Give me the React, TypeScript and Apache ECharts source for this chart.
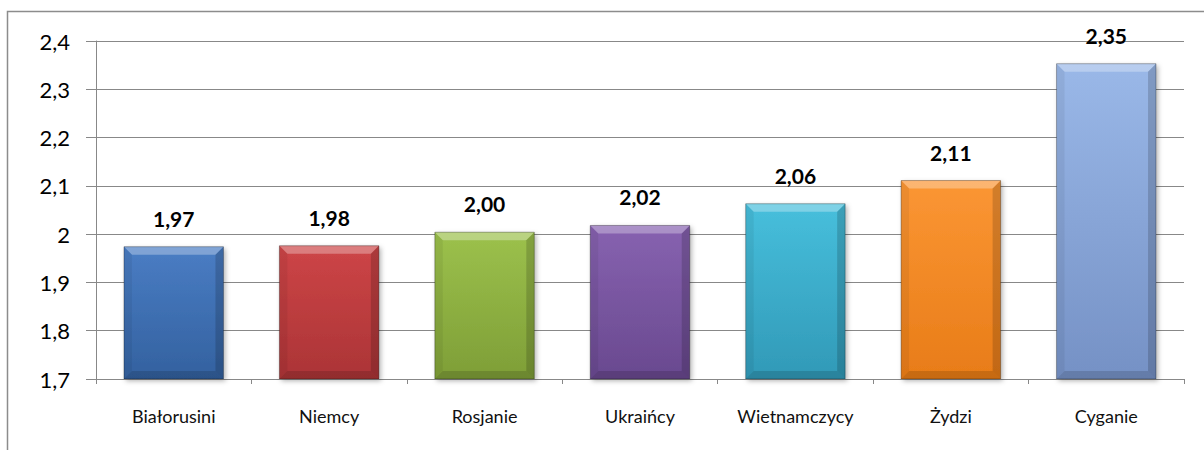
import React, { useEffect, useRef } from "react";
import * as echarts from "echarts";

const categories = ["Białorusini", "Niemcy", "Rosjanie", "Ukraińcy", "Wietnamczycy", "Żydzi", "Cyganie"];
const values = [1.974, 1.976, 2.004, 2.018, 2.063, 2.111, 2.353];
const yMin = 1.7;
const yMax = 2.4;
const yStep = 0.1;

const topColors = ["#4a7dc4", "#cd4547", "#9cc14c", "#8762b0", "#47bfdc", "#fb9634", "#9ab8e8"];
const bottomColors = ["#33619f", "#ab3436", "#7e9e37", "#69498f", "#3199b7", "#e87c18", "#7591c5"];

const fmtComma = (v: number, d: number) => v.toFixed(d).replace(".", ",");

export default function App() {
  const ref = useRef<HTMLDivElement>(null);
  useEffect(() => {
    if (!ref.current) return;
    const chart = echarts.init(ref.current, null, { renderer: "svg" });
    const barWidthRatio = 0.64;
    chart.setOption({
      animation: false,
      backgroundColor: "#ffffff",
      graphic: [
        {
          type: "rect",
          shape: { x: 7.5, y: 11.5, width: 1300, height: 500 },
          style: { fill: "none", stroke: "#8c8c8c", lineWidth: 1.5 },
          silent: true,
          z: 0,
        },
      ],
      grid: { left: 96, right: 20, top: 41, bottom: 71, containLabel: false },
      xAxis: {
        type: "category",
        data: categories,
        axisLine: { show: true, lineStyle: { color: "#888888", width: 1 } },
        axisTick: { show: true, length: 5, alignWithLabel: false, lineStyle: { color: "#888888" } },
        axisLabel: { margin: 28, fontFamily: "Lato", fontSize: 18, color: "#111111" },
        splitLine: { show: false },
      },
      yAxis: {
        type: "value",
        min: yMin,
        max: yMax,
        interval: yStep,
        startValue: yMin,
        axisLine: { show: true, lineStyle: { color: "#888888", width: 1 } },
        axisTick: { show: true, length: 10, lineStyle: { color: "#888888" } },
        axisLabel: {
          margin: 26,
          fontFamily: "Lato",
          fontSize: 22,
          color: "#000000",
          formatter: (v: number) => String(Math.round(v * 10) / 10).replace(".", ","),
        },
        splitLine: { show: true, lineStyle: { color: "#888888", width: 1 } },
      },
      series: [
        {
          type: "bar",
          barWidth: barWidthRatio * 100 + "%",
          clip: true,
          data: values.map((v, i) => ({
            value: v,
            itemStyle: {
              color: new echarts.graphic.LinearGradient(0, 0, 0, 1, [
                { offset: 0, color: topColors[i] },
                { offset: 1, color: bottomColors[i] },
              ]),
              shadowBlur: 5,
              shadowColor: "rgba(0,0,0,0.3)",
              shadowOffsetX: 2,
              shadowOffsetY: 2,
            },
          })),
          label: {
            show: true,
            position: "top",
            distance: 18,
            fontFamily: "Lato",
            fontWeight: "bold",
            fontSize: 21,
            color: "#000000",
            formatter: (p: any) => fmtComma(p.value, 2),
          },
          z: 2,
        },
        {
          type: "custom",
          clip: true,
          z: 3,
          silent: true,
          data: values.map((v, i) => [i, v]),
          renderItem: (params: any, api: any) => {
            const idx = api.value(0);
            const val = api.value(1);
            const top = api.coord([idx, val]);
            const base = api.coord([idx, yMin]);
            const w = api.size([1, 0])[0] * barWidthRatio;
            const x0 = top[0] - w / 2;
            const x1 = top[0] + w / 2;
            const y0 = top[1];
            const y1 = base[1];
            const b = 8;
            return {
              type: "group",
              children: [
                {
                  type: "polygon",
                  shape: { points: [[x0, y0], [x1, y0], [x1 - b, y0 + b], [x0 + b, y0 + b]] },
                  style: { fill: "rgba(255,255,255,0.3)" },
                },
                {
                  type: "polygon",
                  shape: { points: [[x1, y0], [x1, y1], [x1 - b, y1 - b], [x1 - b, y0 + b]] },
                  style: { fill: "rgba(0,0,0,0.16)" },
                },
                {
                  type: "polygon",
                  shape: { points: [[x0, y0], [x0 + b, y0 + b], [x0 + b, y1 - b], [x0, y1]] },
                  style: { fill: "rgba(0,0,0,0.06)" },
                },
                {
                  type: "polygon",
                  shape: { points: [[x0, y1], [x0 + b, y1 - b], [x1 - b, y1 - b], [x1, y1]] },
                  style: { fill: "rgba(0,0,0,0.14)" },
                },
                {
                  type: "rect",
                  shape: { x: x0, y: y0, width: w, height: y1 - y0 },
                  style: { fill: "none", stroke: "rgba(0,0,0,0.3)", lineWidth: 1 },
                },
              ],
            };
          },
        },
      ],
    });
    return () => chart.dispose();
  }, []);
  return (
    <div
      ref={ref}
      style={{ position: "absolute", left: 0, top: 0, width: 1204, height: 450 }}
    />
  );
}
